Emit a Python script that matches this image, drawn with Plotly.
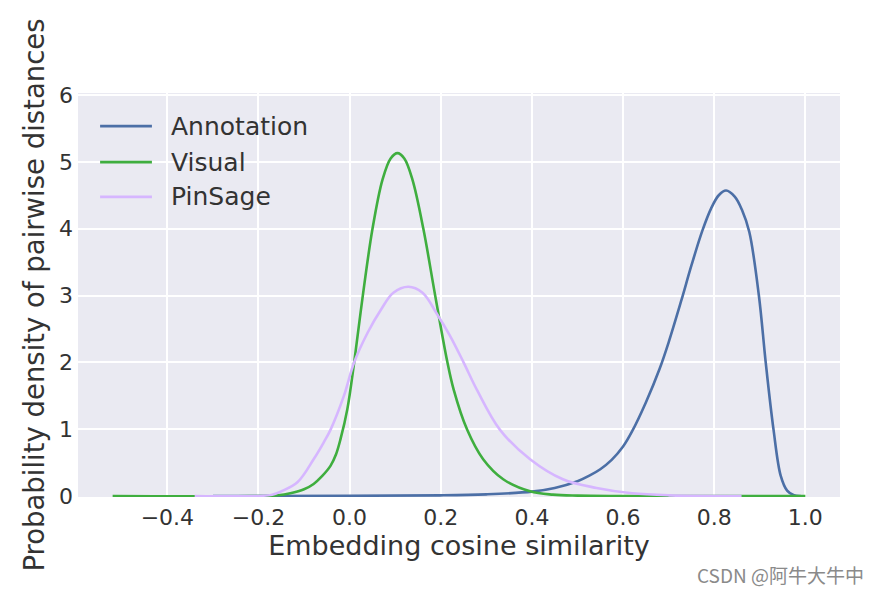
import plotly.graph_objects as go

# curves (KDE of pairwise cosine similarity)
annotation_x = [-0.30, 0.00, 0.20, 0.30, 0.40, 0.45, 0.50, 0.525, 0.55, 0.575, 0.60, 0.62,
                0.65, 0.68, 0.70, 0.728, 0.75, 0.774, 0.793, 0.81, 0.826, 0.845, 0.861,
                0.877, 0.898, 0.913, 0.93, 0.946, 0.96, 0.975, 0.99]
annotation_y = [0.0, 0.003, 0.01, 0.025, 0.065, 0.12, 0.22, 0.3, 0.4, 0.54, 0.74, 0.97,
                1.4, 1.9, 2.3, 2.93, 3.45, 3.97, 4.3, 4.5, 4.57, 4.48, 4.28,
                3.95, 3.0, 2.0, 1.0, 0.3, 0.08, 0.01, 0.0]

visual_x = [-0.52, -0.20, -0.157, -0.13, -0.10, -0.079, -0.06, -0.042, -0.03, -0.02,
            -0.005, 0.01, 0.028, 0.05, 0.072, 0.09, 0.105, 0.12, 0.138, 0.162, 0.188,
            0.214, 0.228, 0.258, 0.293, 0.337, 0.396, 0.446, 0.50, 0.60, 1.00]
visual_y = [0.0, 0.0, 0.01, 0.04, 0.10, 0.18, 0.30, 0.45, 0.62, 0.85,
            1.3, 2.0, 2.95, 3.99, 4.73, 5.05, 5.13, 5.05, 4.73, 3.99, 2.99,
            2.02, 1.6, 0.99, 0.55, 0.25, 0.07, 0.02, 0.005, 0.0, 0.0]

pinsage_x = [-0.34, -0.20, -0.17, -0.15, -0.114, -0.079, -0.057, -0.042, -0.013, 0.01,
             0.04, 0.068, 0.096, 0.129, 0.16, 0.192, 0.22, 0.25, 0.28, 0.33, 0.396,
             0.468, 0.542, 0.62, 0.70, 0.86]
pinsage_y = [0.0, 0.0, 0.02, 0.07, 0.21, 0.55, 0.80, 0.99, 1.49, 2.0,
             2.45, 2.78, 3.04, 3.13, 3.04, 2.72, 2.4, 2.0, 1.58, 0.99, 0.55,
             0.25, 0.12, 0.04, 0.01, 0.0]

series_names = ["Annotation", "Visual", "PinSage"]
series_colors = ["#4c6fa6", "#3fae3f", "#d6b6ff"]

x_ticks = [-0.4, -0.2, 0.0, 0.2, 0.4, 0.6, 0.8, 1.0]
y_ticks = [0, 1, 2, 3, 4, 5, 6]

font = "DejaVu Sans"
txt = "#333333"

fig = go.Figure()
for name, color, xs, ys in zip(series_names, series_colors,
                               [annotation_x, visual_x, pinsage_x],
                               [annotation_y, visual_y, pinsage_y]):
    fig.add_trace(go.Scatter(x=xs, y=ys, mode="lines", name=name, showlegend=False,
                             line=dict(color=color, width=2.6, shape="spline", smoothing=1)))

# legend drawn by hand so the sample lines are as long as in the original
leg_y = [0.918, 0.829, 0.743]
for name, color, ly in zip(series_names, series_colors, leg_y):
    fig.add_shape(type="line", xref="paper", yref="paper", x0=0.029, x1=0.097,
                  y0=ly, y1=ly, line=dict(color=color, width=2.6))
    fig.add_annotation(text=name, xref="paper", yref="paper", x=0.12, y=ly,
                       xanchor="left", yanchor="middle", showarrow=False,
                       font=dict(size=25, color=txt))

# the page body adds an 8px margin, so the figure is 8px smaller on each side
fig.update_layout(
    width=872, height=586,
    margin=dict(l=70, r=40, t=85, b=97),
    paper_bgcolor="white",
    plot_bgcolor="#eaeaf2",
    font=dict(family=font, color=txt, size=22),
    showlegend=False,
)
fig.update_xaxes(range=[-0.596, 1.076], tickvals=x_ticks, tickformat=".1f", automargin=False,
                 showgrid=True, gridcolor="white", gridwidth=1.6, zeroline=False,
                 showline=False, ticks="", tickfont=dict(size=22, color=txt),
                 ticklabelstandoff=5,
                 title=dict(text="Embedding cosine similarity", font=dict(size=27, color=txt),
                            standoff=2))
fig.update_yaxes(range=[-0.015, 6.03], tickvals=y_ticks, automargin=False,
                 showgrid=True, gridcolor="white", gridwidth=1.6, zeroline=False,
                 showline=False, ticks="", tickfont=dict(size=22, color=txt),
                 ticklabelstandoff=4,
                 title=dict(text="Probability density of pairwise distances",
                            font=dict(size=27.5, color=txt), standoff=6))

fig.add_annotation(text="CSDN @阿牛大牛中", xref="paper", yref="paper", x=1.034, y=-0.193,
                   xanchor="right", yanchor="middle", showarrow=False,
                   font=dict(family="Noto Sans CJK SC", size=19, color="#8a8a8a"))

fig.write_html("out.html")
